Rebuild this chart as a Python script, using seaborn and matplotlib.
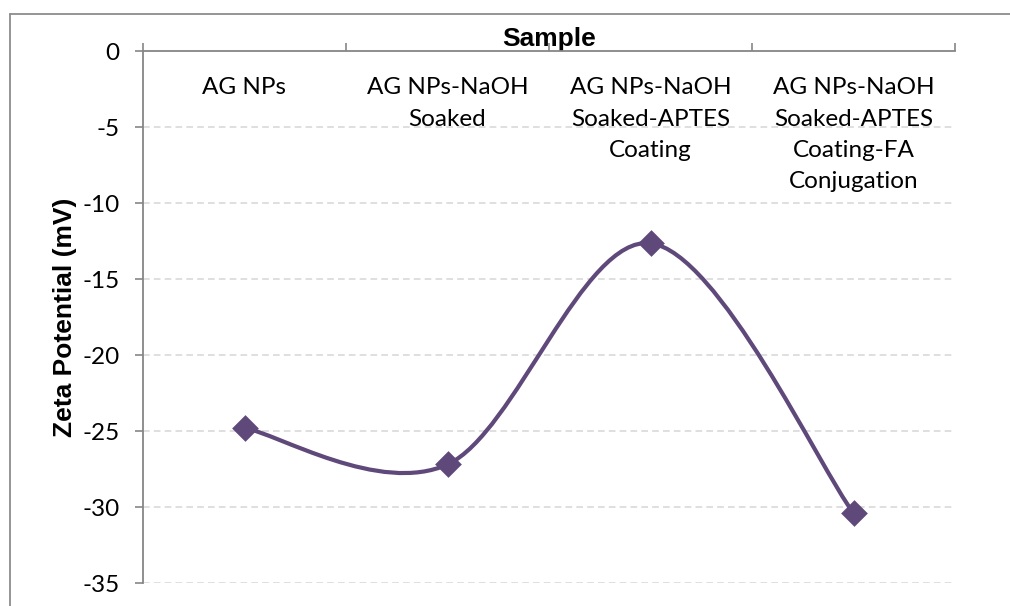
import numpy as np
import pandas as pd
import matplotlib
matplotlib.use("Agg")
import matplotlib.pyplot as plt
from matplotlib.path import Path
from matplotlib.patches import PathPatch
from matplotlib.lines import Line2D
import seaborn as sns

categories = ["AG NPs",
              "AG NPs-NaOH\nSoaked",
              "AG NPs-NaOH\nSoaked-APTES\nCoating",
              "AG NPs-NaOH\nSoaked-APTES\nCoating-FA\nConjugation"]
zeta = [-24.8, -27.2, -12.65, -30.4]
yticks = [0, -5, -10, -15, -20, -25, -30, -35]

COLOR = "#5F497A"
GRID = "#D9D9D9"
AXC = "#868686"

sns.set_theme(style="white")
plt.rcParams['font.family'] = ['Lato', 'DejaVu Sans']
plt.rcParams['text.color'] = 'black'
plt.rcParams['axes.labelcolor'] = 'black'
plt.rcParams['xtick.labelcolor'] = 'black'
plt.rcParams['ytick.labelcolor'] = 'black'

df = pd.DataFrame({"pos": np.arange(len(categories)), "zeta": zeta})

fig = plt.figure(figsize=(10.10, 6.06), dpi=100)
ax = fig.add_axes([143/1010, 1 - 583/606, (955-143)/1010, (583-51)/606])

# smoothed line (Excel-like Catmull-Rom -> cubic Bezier)
P = df[["pos", "zeta"]].to_numpy(dtype=float)
n = len(P)
verts = [tuple(P[0])]
codes = [Path.MOVETO]
for i in range(n - 1):
    p0 = P[i - 1] if i > 0 else P[i]
    p1 = P[i]
    p2 = P[i + 1]
    p3 = P[i + 2] if i + 2 < n else P[i + 1]
    c1 = p1 + (p2 - p0) / 6.0
    c2 = p2 - (p3 - p1) / 6.0
    verts += [tuple(c1), tuple(c2), tuple(p2)]
    codes += [Path.CURVE4, Path.CURVE4, Path.CURVE4]
ax.add_patch(PathPatch(Path(verts, codes), facecolor="none", edgecolor=COLOR,
                       linewidth=3.0, capstyle="round", joinstyle="round", zorder=3))

sns.scatterplot(data=df, x="pos", y="zeta", marker="D", s=185, color=COLOR,
                edgecolor=COLOR, linewidth=0, ax=ax, zorder=4, legend=False)

ax.set_xlim(-0.5, len(categories) - 0.5)
ax.set_ylim(-35, 0)

# y axis
ax.set_yticks(yticks)
ax.set_yticklabels([str(v) for v in yticks])
ax.tick_params(axis="y", which="major", direction="out", length=6, width=1.2,
               color=AXC, pad=11, labelsize=17.5, labelcolor="black", left=True)
for v in yticks[1:]:
    ax.axhline(v, color=GRID, linestyle=(0, (4, 2.5)), linewidth=1.2, zorder=1)

# x axis on top
ax.xaxis.tick_top()
ax.xaxis.set_label_position("top")
ax.set_xticks(np.arange(len(categories)))
ax.set_xticklabels(categories)
ax.set_xticks(np.arange(len(categories) + 1) - 0.5, minor=True)
ax.tick_params(axis="x", which="major", length=0, top=True, bottom=False,
               labeltop=True, labelbottom=False, pad=-19, labelsize=17.5,
               labelcolor="black")
ax.tick_params(axis="x", which="minor", direction="out", length=6, width=1.2,
               color=AXC, top=True, bottom=False)
for t in ax.xaxis.get_major_ticks():
    t.label2.set_verticalalignment("top")
    t.label2.set_linespacing(1.6)

ax.set_xlabel("Sample", fontsize=19, fontweight="bold", color="black",
              family=["Liberation Sans", "DejaVu Sans"], labelpad=-5.5)
ax.set_ylabel("Zeta Potential (mV)", fontsize=19, fontweight="bold", color="black",
              family=["Liberation Sans", "DejaVu Sans"], labelpad=4)

for s in ["right", "bottom"]:
    ax.spines[s].set_visible(False)
for s in ["left", "top"]:
    ax.spines[s].set_color(AXC)
    ax.spines[s].set_linewidth(1.3)
ax.grid(False)

# outer chart border (left and top edges visible in the crop)
bx = 9.5 / 1010
by = 1 - 13.5 / 606
fig.lines.append(Line2D([bx, bx], [0, by], transform=fig.transFigure,
                        color="#8C8C8C", linewidth=1.3))
fig.lines.append(Line2D([bx, 1], [by, by], transform=fig.transFigure,
                        color="#8C8C8C", linewidth=1.3))

fig.savefig("out.png", dpi=100)
